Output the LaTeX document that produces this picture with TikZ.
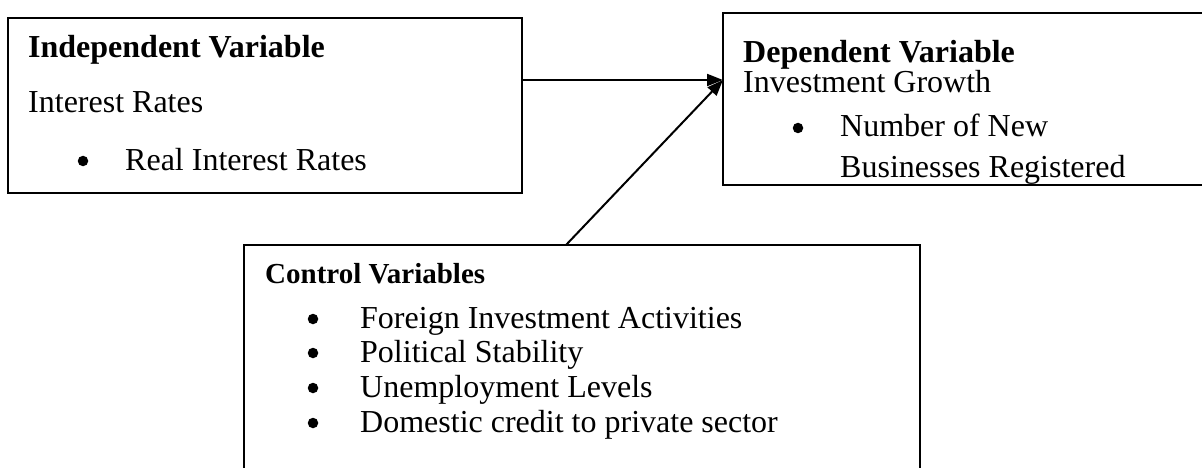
\documentclass[tikz,border=0pt]{standalone}
\usepackage{fontspec}
\setmainfont{Liberation Serif}
\usetikzlibrary{arrows.meta}
\begin{document}
\begin{tikzpicture}[x=1pt,y=-1pt,
  frame/.style={draw=black,line width=2pt,inner sep=0pt,outer sep=0pt,anchor=north west},
  txt/.style={anchor=base west,inner sep=0pt,font=\fontsize{32}{38}\selectfont},
  head/.style={txt,font=\fontsize{32}{38}\selectfont\bfseries},
  ctrlhead/.style={txt,font=\fontsize{29}{35}\selectfont\bfseries},
  bul/.style={circle,fill=black,inner sep=0pt,minimum size=10.5pt},
  link/.style={line width=2pt,-{Triangle[length=16pt,width=12pt]}}]
\useasboundingbox (0,0) rectangle (1202,468);
\fill[white] (0,0) rectangle (1202,468);
\clip (0,0) rectangle (1202,468);

% boxes
\node[frame,minimum width=514pt,minimum height=175pt] (iv) at (8,18) {};
\node[frame,minimum width=500pt,minimum height=172pt] (dv) at (723,13) {};
\node[frame,minimum width=676pt,minimum height=240pt] (cv) at (244,245) {};

% independent variable
\node[head] (ivt) at (28,58) {Independent Variable};
\node[txt] (ivs) at (28,113) {Interest Rates};
\node[bul] (ivb) at (83,161) {};
\node[txt] (ivi) at (125,170) {Real Interest Rates};

% dependent variable (text cut off by its box)
\begin{scope}
\clip (dv.north west) rectangle (dv.south east);
\node[head] (dvt) at (743,63) {Dependent Variable};
\node[txt] (dvs) at (743,93) {Investment Growth};
\node[bul] (dvb) at (798,128) {};
\node[txt] (dvi1) at (840,137) {Number of New};
\node[txt] (dvi2) at (840,178) {Businesses Registered};
\end{scope}
\node[frame,minimum width=500pt,minimum height=172pt] (dvframe) at (723,13) {};

% control variables
\node[ctrlhead] (cvt) at (265,283) {Control Variables};
\node[bul] (cvb1) at (313,319) {};
\node[txt] (cvi1) at (360,328) {Foreign Investment Activities};
\node[bul] (cvb2) at (313,353) {};
\node[txt] (cvi2) at (360,362) {Political Stability};
\node[bul] (cvb3) at (313,388) {};
\node[txt] (cvi3) at (360,397) {Unemployment Levels};
\node[bul] (cvb4) at (313,423) {};
\node[txt] (cvi4) at (360,432) {Domestic credit to private sector};

% connectors
\draw[link] ([yshift=25.5pt]iv.east) -- ([yshift=19pt]dv.west);
\draw[link] ([xshift=322pt]cv.north west) -- ([yshift=19pt]dv.west);
\end{tikzpicture}
\end{document}
